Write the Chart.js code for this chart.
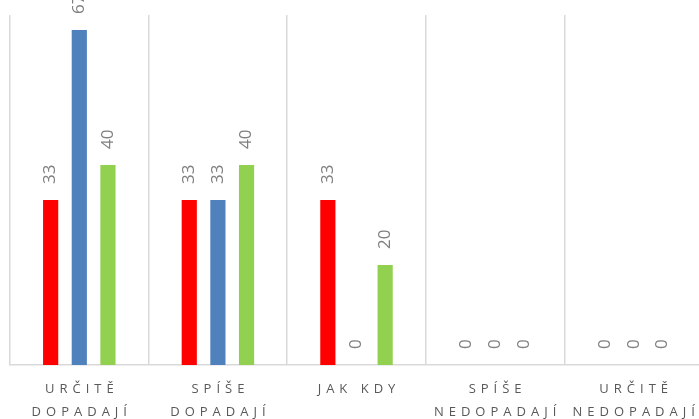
<!DOCTYPE html>
<html>
<head>
<meta charset="utf-8">
<script src="https://cdn.jsdelivr.net/npm/chart.js@4/dist/chart.umd.min.js"></script>
<style>
  html, body { margin: 0; padding: 0; background: #fff; overflow: hidden; }
  #wrap { position: relative; width: 712px; height: 419px; }
</style>
</head>
<body>
<div id="wrap"><canvas id="chart"></canvas></div>
<script>
  const categories = [
    ["URČITĚ", "DOPADAJÍ"],
    ["SPÍŠE", "DOPADAJÍ"],
    ["JAK KDY"],
    ["SPÍŠE", "NEDOPADAJÍ"],
    ["URČITĚ", "NEDOPADAJÍ"]
  ];
  const seriesRed = [33, 33, 33, 0, 0];
  const seriesBlue = [67, 33, 0, 0, 0];
  const seriesGreen = [40, 40, 20, 0, 0];
  const yMax = 70;

  const labelFont = "'Open Sans', 'DejaVu Sans', sans-serif";

  // value labels rotated above each bar
  const valueLabels = {
    id: "valueLabels",
    afterDatasetsDraw(chart) {
      const ctx = chart.ctx;
      ctx.save();
      ctx.fillStyle = "#808080";
      ctx.font = "17px " + labelFont;
      ctx.textAlign = "left";
      ctx.textBaseline = "middle";
      chart.data.datasets.forEach((ds, i) => {
        chart.getDatasetMeta(i).data.forEach((bar, j) => {
          ctx.save();
          ctx.translate(bar.x, bar.y - 16);
          ctx.rotate(-Math.PI / 2);
          ctx.fillText(String(ds.data[j]), 0, 0);
          ctx.restore();
        });
      });
      ctx.restore();
    }
  };

  // letter-spaced category labels under the axis
  const catLabels = {
    id: "catLabels",
    afterDraw(chart) {
      const ctx = chart.ctx;
      const x = chart.scales.x;
      ctx.save();
      ctx.fillStyle = "#595959";
      ctx.font = "13px " + labelFont;
      ctx.letterSpacing = "5px";
      ctx.textAlign = "center";
      ctx.textBaseline = "middle";
      categories.forEach((lines, i) => {
        const cx = x.getPixelForValue(i) + 2.5;
        lines.forEach((t, k) => {
          ctx.fillText(t, cx, chart.chartArea.bottom + 24 + k * 23);
        });
      });
      ctx.restore();
    }
  };

  new Chart(document.getElementById("chart"), {
    type: "bar",
    data: {
      labels: categories.map((c) => c.join(" ")),
      datasets: [
        { label: "Red", data: seriesRed, backgroundColor: "#ff0000" },
        { label: "Blue", data: seriesBlue, backgroundColor: "#4f81bd" },
        { label: "Green", data: seriesGreen, backgroundColor: "#92d050" }
      ]
    },
    options: {
      responsive: true,
      maintainAspectRatio: false,
      animation: false,
      datasets: { bar: { categoryPercentage: 0.62, barPercentage: 0.53 } },
      layout: { padding: { left: 10, top: 15, right: 9, bottom: 54 } },
      plugins: { legend: { display: false }, tooltip: { enabled: false } },
      scales: {
        x: {
          grid: { display: true, offset: true, color: "#d9d9d9", lineWidth: 1.5, drawTicks: false },
          border: { display: true, color: "#d9d9d9", width: 1.5 },
          ticks: { display: false }
        },
        y: {
          display: false,
          min: 0,
          max: yMax
        }
      }
    },
    plugins: [valueLabels, catLabels]
  });
</script>
</body>
</html>
